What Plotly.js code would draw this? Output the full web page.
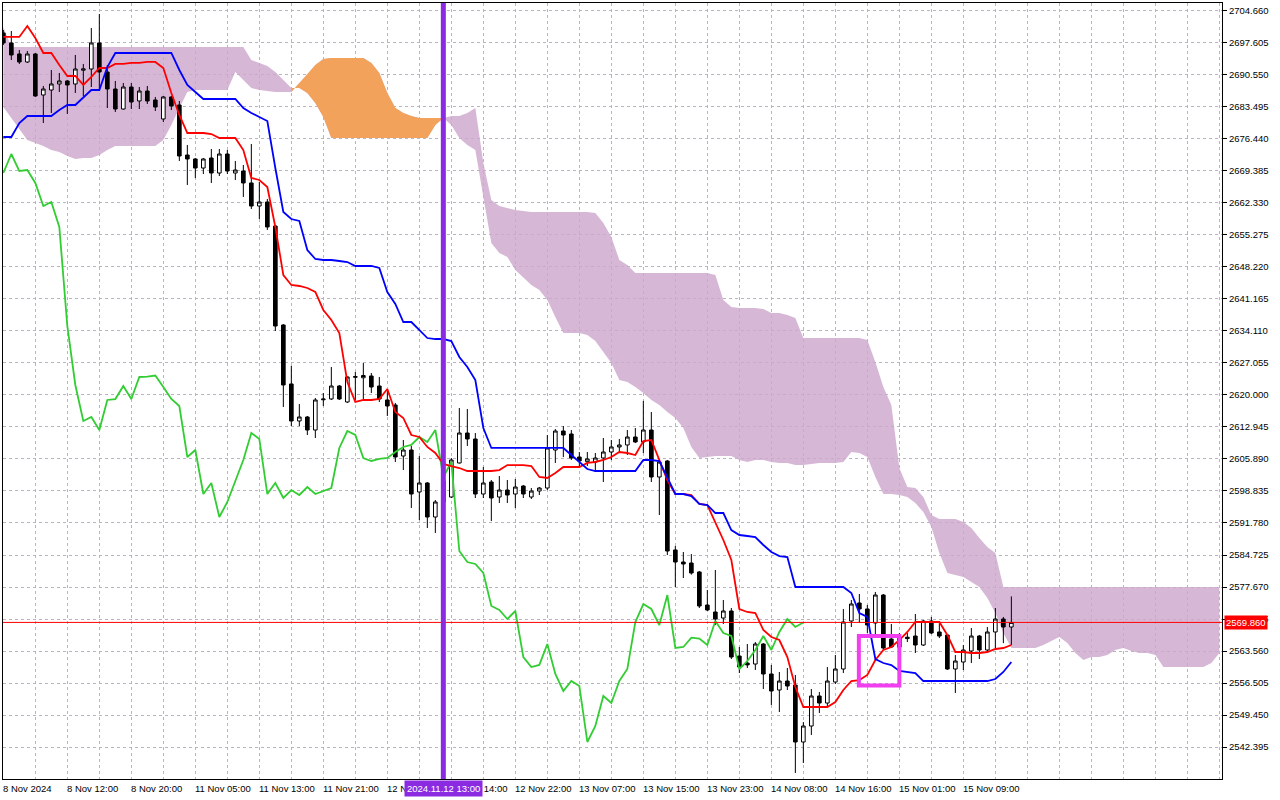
<!DOCTYPE html>
<html><head><meta charset="utf-8">
<script src="https://cdn.plot.ly/plotly-3.0.1.min.js"></script>
<style>html,body{margin:0;padding:0;background:#fff;}#chart{width:1280px;height:800px;}</style>
</head><body><div id="chart"></div>
<script>
// ---------- data (XAUUSD H1, bar index 0 = 8 Nov 2024 04:00) ----------
const tickBars = [0,8,16,24,32,40,48,56,64,72,80,88,96,104,112,120];
const tickLabels = ['8 Nov 2024','8 Nov 12:00','8 Nov 20:00','11 Nov 05:00','11 Nov 13:00','11 Nov 21:00','12 Nov 06:00','12 Nov 14:00','12 Nov 22:00','13 Nov 07:00','13 Nov 15:00','13 Nov 23:00','14 Nov 08:00','14 Nov 16:00','15 Nov 01:00','15 Nov 09:00'];
const priceTicks = [2704.660,2697.605,2690.550,2683.495,2676.440,2669.385,2662.330,2655.275,2648.220,2641.165,2634.110,2627.055,2620.000,2612.945,2605.890,2598.835,2591.780,2584.725,2577.670,2570.615,2563.560,2556.505,2549.450,2542.395];

const open = [
2699.81,2697.61,2695.18,2693.42,2695.18,2686.14,2687.24,2688.57,2689.23,2688.57,
2691.60,2691.87,2697.61,2691.21,2687.46,2683.05,2687.90,2684.82,2687.02,2685.04,
2680.85,2685.70,2683.93,2672.91,2672.03,2670.04,2672.25,2668.94,2673.13,2668.94,
2669.38,2666.74,2661.66,2662.55,2657.26,2635.43,2622.43,2614.27,2615.15,2612.28,
2618.95,2619.12,2621.98,2618.46,2623.90,2623.80,2624.19,2621.98,2618.90,2617.79,
2606.55,2607.87,2598.61,2600.60,2593.10,2596.40,2597.51,2605.01,2611.62,2610.30,
2598.17,2600.82,2597.51,2599.05,2598.17,2599.93,2597.51,2598.83,2599.49,2607.87,
2612.06,2611.40,2606.33,2605.30,2605.23,2606.11,2607.43,2608.54,2608.98,2610.74,
2609.64,2612.28,2601.92,2605.45,2585.83,2583.18,2582.96,2580.98,2573.70,2572.16,
2570.83,2572.38,2562.45,2560.90,2560.69,2565.10,2558.49,2554.96,2556.94,2556.06,
2543.50,2547.02,2553.64,2552.09,2556.72,2559.59,2570.17,2574.14,2572.82,2569.73,
2575.90,2566.20,2564.40,2566.60,2566.86,2564.88,2570.17,2567.75,2567.09,2559.59,
2561.13,2563.56,2566.86,2563.78,2567.75,2570.61,2568.85];
const high = [
2700.47,2700.25,2696.06,2695.84,2695.40,2688.13,2691.65,2690.99,2689.45,2694.96,
2692.98,2700.91,2704.00,2692.75,2689.23,2688.79,2688.79,2687.90,2688.13,2685.70,
2685.92,2685.92,2684.82,2675.12,2672.25,2672.25,2674.23,2674.23,2674.01,2671.59,
2670.71,2675.34,2666.96,2663.21,2657.48,2635.65,2626.40,2618.02,2615.37,2619.34,
2620.44,2626.17,2622.21,2624.10,2625.07,2627.05,2624.85,2623.97,2621.32,2618.24,
2610.08,2608.76,2606.55,2600.82,2596.85,2604.00,2606.11,2617.13,2616.91,2611.62,
2604.12,2601.26,2602.14,2601.26,2601.48,2600.15,2599.49,2599.71,2611.18,2612.50,
2613.16,2612.28,2607.43,2607.43,2607.21,2610.52,2610.08,2610.30,2612.28,2612.72,
2618.68,2616.25,2605.67,2605.67,2586.71,2585.39,2584.94,2581.20,2577.01,2581.42,
2574.80,2573.04,2564.44,2565.10,2565.54,2565.32,2560.47,2558.93,2559.81,2558.27,
2547.90,2555.18,2554.52,2560.03,2562.67,2572.82,2574.80,2576.13,2573.70,2576.57,
2576.13,2569.51,2567.50,2567.53,2571.72,2570.39,2571.06,2569.95,2567.31,2562.67,
2564.88,2568.63,2567.09,2568.85,2573.04,2571.06,2575.60];
const low = [
2697.17,2693.86,2692.98,2693.20,2685.70,2679.97,2682.17,2686.80,2681.95,2686.58,
2685.92,2687.90,2687.24,2683.27,2682.39,2682.90,2683.05,2683.05,2684.16,2682.61,
2680.19,2682.83,2671.59,2666.30,2667.84,2668.72,2666.74,2668.28,2668.72,2667.40,
2663.65,2661.00,2658.80,2656.38,2634.11,2617.35,2613.16,2613.16,2611.18,2610.52,
2617.57,2618.90,2618.90,2618.24,2618.90,2618.90,2620.44,2618.46,2615.37,2605.23,
2603.46,2595.08,2592.44,2590.67,2589.57,2594.80,2597.29,2604.90,2608.76,2597.29,
2597.29,2592.22,2596.19,2596.19,2595.08,2597.29,2597.07,2597.95,2599.05,2605.01,
2606.33,2605.67,2604.12,2604.34,2603.02,2600.82,2605.67,2607.21,2606.77,2609.41,
2607.21,2600.82,2593.54,2584.72,2577.67,2579.65,2580.40,2573.04,2572.38,2569.29,
2569.51,2561.79,2558.71,2559.81,2559.37,2555.18,2551.66,2550.11,2554.96,2536.66,
2538.87,2545.04,2549.89,2551.21,2556.28,2558.71,2568.85,2569.73,2567.53,2567.09,
2563.78,2564.22,2563.00,2565.54,2563.12,2564.66,2567.31,2566.42,2559.37,2554.30,
2559.37,2560.91,2561.79,2563.12,2564.20,2565.30,2564.90];
const close = [
2697.61,2694.96,2693.42,2695.18,2685.92,2687.46,2688.57,2689.23,2688.35,2691.87,
2691.90,2697.61,2691.21,2687.46,2683.05,2687.90,2684.60,2687.02,2684.82,2683.49,
2685.70,2683.71,2672.69,2672.03,2670.04,2672.03,2668.94,2673.13,2669.38,2669.60,
2666.74,2661.66,2662.55,2657.04,2635.21,2622.21,2614.27,2615.15,2612.28,2618.90,
2619.10,2621.98,2619.12,2623.97,2624.05,2624.30,2621.76,2619.12,2617.57,2606.33,
2607.87,2598.17,2600.60,2593.10,2596.41,2601.00,2605.67,2611.62,2610.30,2598.17,
2600.60,2597.29,2599.05,2597.95,2599.71,2598.17,2598.83,2599.49,2608.32,2612.06,
2611.18,2606.11,2605.45,2605.90,2606.11,2607.43,2608.54,2608.98,2610.74,2609.64,
2612.28,2601.92,2605.23,2585.60,2583.18,2582.74,2580.76,2573.48,2572.60,2570.61,
2572.38,2562.23,2560.03,2560.50,2565.10,2558.49,2554.74,2556.94,2555.84,2543.50,
2547.02,2553.64,2552.09,2556.94,2559.59,2569.95,2573.92,2572.82,2569.29,2575.90,
2564.22,2564.44,2566.50,2566.30,2564.88,2570.17,2567.53,2566.86,2559.59,2561.35,
2563.78,2566.86,2563.78,2567.75,2570.61,2568.85,2569.86];

const tenkan = [
2698.93,2698.93,2698.93,2701.35,2698.71,2695.40,2695.40,2692.75,2690.33,2690.33,
2688.35,2690.11,2692.09,2692.09,2692.98,2692.98,2693.20,2693.20,2693.42,2693.42,
2692.09,2686.58,2681.73,2677.76,2677.76,2677.76,2677.54,2676.66,2676.66,2676.66,
2674.01,2667.84,2667.40,2665.86,2657.04,2646.45,2644.25,2644.03,2643.59,2642.71,
2638.74,2636.53,2633.67,2622.87,2618.46,2618.90,2618.90,2619.12,2621.32,2616.25,
2614.93,2611.18,2610.74,2608.54,2607.21,2604.79,2604.34,2603.90,2603.24,2603.24,
2603.24,2603.24,2603.46,2604.56,2604.56,2604.56,2604.34,2601.92,2601.70,2602.80,
2604.12,2604.12,2604.12,2605.01,2605.23,2605.67,2606.33,2607.43,2607.21,2606.77,
2609.86,2610.08,2605.67,2601.26,2598.17,2598.17,2597.95,2595.97,2595.75,2592.00,
2588.03,2583.62,2572.82,2572.16,2571.94,2568.19,2566.64,2565.98,2562.23,2555.62,
2551.21,2551.21,2551.21,2551.21,2552.31,2554.96,2556.94,2557.16,2558.27,2561.57,
2563.78,2564.44,2565.98,2567.75,2569.95,2569.95,2569.95,2569.95,2567.09,2563.34,
2563.34,2563.12,2563.12,2563.34,2564.00,2564.22,2564.88];
const kijun = [
2676.88,2676.88,2679.97,2681.51,2681.51,2681.51,2681.51,2682.83,2683.93,2683.93,
2685.48,2687.24,2687.24,2692.31,2695.40,2695.40,2695.40,2695.40,2695.40,2695.40,
2695.40,2695.40,2691.65,2688.35,2686.80,2685.26,2685.26,2685.26,2685.26,2685.26,
2683.27,2682.17,2681.29,2680.41,2670.04,2660.34,2658.80,2658.36,2651.97,2649.98,
2649.76,2649.76,2649.54,2649.32,2648.44,2648.44,2648.44,2648.00,2642.71,2640.06,
2636.09,2636.09,2634.33,2632.56,2632.34,2632.34,2631.90,2628.38,2626.17,2623.31,
2612.72,2608.32,2608.32,2608.32,2608.32,2608.32,2608.32,2608.32,2608.32,2608.32,
2608.32,2606.77,2605.23,2603.68,2603.24,2603.24,2603.24,2603.24,2603.24,2603.24,
2605.67,2605.67,2605.45,2601.70,2598.17,2598.17,2597.73,2595.97,2595.75,2593.98,
2593.98,2590.23,2589.13,2588.91,2588.69,2586.93,2585.39,2584.50,2584.28,2577.67,
2577.67,2577.67,2577.67,2577.67,2577.67,2577.67,2576.35,2571.94,2571.06,2561.79,
2560.91,2560.47,2559.15,2558.93,2558.71,2556.94,2556.94,2556.94,2556.94,2556.94,
2556.94,2556.94,2556.94,2556.94,2557.38,2558.93,2561.13];
const spanA = [
2683.49,2681.07,2678.42,2676.22,2675.56,2674.89,2674.01,2673.57,2672.69,2672.03,
2672.25,2672.25,2672.91,2674.01,2674.89,2674.89,2674.89,2674.89,2674.89,2674.89,
2676.22,2679.53,2683.27,2686.80,2687.24,2687.24,2687.24,2687.24,2687.24,2691.21,
2689.45,2687.68,2687.24,2687.02,2686.80,2686.80,2686.80,2688.79,2690.55,2692.75,
2694.08,2694.30,2694.30,2694.30,2694.30,2694.30,2693.20,2690.99,2686.58,2683.27,
2682.17,2681.51,2681.07,2681.07,2681.07,2681.07,2679.53,2676.66,2675.12,2674.01,
2663.65,2653.51,2651.31,2650.43,2647.56,2646.01,2644.25,2643.15,2640.94,2637.20,
2633.67,2633.67,2633.67,2633.23,2631.90,2629.47,2627.05,2623.31,2622.87,2621.76,
2620.44,2618.90,2617.79,2616.25,2614.93,2612.72,2608.54,2606.11,2606.33,2606.55,
2606.55,2606.55,2605.67,2605.23,2605.67,2605.67,2605.23,2605.01,2605.01,2604.56,
2604.56,2604.79,2605.01,2605.01,2605.01,2605.23,2607.43,2607.21,2606.33,2601.92,
2598.17,2598.17,2597.95,2597.51,2596.19,2594.20,2590.89,2585.17,2580.76,2580.32,
2579.88,2578.78,2577.67,2575.24,2571.94,2567.53,2564.22,2564.22,2564.22,2564.22,
2564.88,2565.76,2566.64,2565.32,2563.12,2561.57,2562.23,2562.23,2562.67,2563.78,
2564.22,2563.56,2563.12,2563.12,2562.67,2560.03,2560.03,2560.03,2560.03,2560.03,
2560.03,2560.91,2563.12];
const spanB = [
2701.13,
2696.72,2696.72,2696.72,2696.72,2696.72,2696.72,2696.72,2696.72,2696.72,2696.72,
2696.72,2696.72,2696.72,2696.72,2696.72,2696.72,2696.72,2696.72,2696.72,2696.72,
2696.72,2696.72,2696.72,2696.72,2696.72,2696.72,2696.72,2696.72,2696.72,2696.72,
2693.86,2693.20,2692.53,2691.21,2689.45,2687.68,
2687.68,2686.58,2684.38,2681.29,
2676.66,2676.66,2676.66,2676.66,2676.66,2676.66,2676.66,2676.66,2676.66,2676.66,2676.66,2676.66,2676.66,
2679.53,2681.07,
2681.51,2681.51,2682.17,2683.27,
2671.15,2662.99,2661.66,2661.22,2660.78,2660.56,
2660.34,2660.34,2660.34,2660.34,2660.34,2660.34,2660.34,2660.34,
2660.12,2657.92,2654.83,2649.76,2648.66,
2646.89,2646.89,2646.89,2646.89,2646.89,2646.89,2646.89,2646.89,2646.89,2646.89,
2646.45,2640.94,2639.40,2639.18,2639.18,2639.18,2638.96,2638.08,2638.08,2637.64,2636.97,
2632.56,2632.56,2632.56,2632.56,2632.56,2632.56,2632.56,2632.56,
2632.12,2627.28,2621.76,2617.79,2603.90,2599.71,2599.49,2597.51,2593.54,
2592.66,2592.66,2592.66,2592.00,2590.67,2588.47,2586.49,2585.17,
2577.67,2577.67,2577.67,2577.67,2577.67,2577.67,2577.67,2577.67,2577.67,2577.67,
2577.67,2577.67,2577.67,2577.67,2577.67,2577.67,2577.67,2577.67,2577.67,2577.67,
2577.67,2577.67,2577.67,2577.67,2577.67,2577.67,2577.67,2577.67];

const chikouShift = 26;
const bullCloud = [36, 55];          // bars where Span A is above Span B
const currentPrice = 2569.86;
const markerBar = 55;
const markerLabel = '2024.11.12 13:00';
const boxBars = [106.94, 112.0];
const boxPrices = [2555.96, 2566.86];

// ---------- build ----------
const bars = open.map((_, i) => i);
const cloudBars = spanA.map((_, i) => i);
const gridBars = [];
for (let b = 0; b <= 152; b += 4) gridBars.push(b);
const FONT = 'Liberation Sans, Arial, sans-serif';
const X_RANGE = [-0.04, 152.33];
const Y_RANGE = [2535.34, 2706.42];
const NOLINE = {width: 0, color: 'rgba(0,0,0,0)'};

const bullX = cloudBars.slice(bullCloud[0], bullCloud[1] + 1);
const traces = [
  // cloud on the base subplot (below)
  {x: cloudBars, y: spanB, mode: 'lines', line: NOLINE, hoverinfo: 'skip'},
  {x: cloudBars, y: spanA, mode: 'lines', line: NOLINE, fill: 'tonexty', fillcolor: 'rgba(205,168,205,0.82)', hoverinfo: 'skip'},
  {x: bullX, y: spanB.slice(bullCloud[0], bullCloud[1] + 1), mode: 'lines', line: NOLINE, hoverinfo: 'skip'},
  {x: bullX, y: spanA.slice(bullCloud[0], bullCloud[1] + 1), mode: 'lines', line: NOLINE, fill: 'tonexty', fillcolor: 'rgb(243,162,92)', hoverinfo: 'skip'},
  // candles and lines on the overlaid subplot (above the cloud)
  {type: 'candlestick', xaxis: 'x2', yaxis: 'y2', x: bars, open: open, high: high, low: low, close: close,
   increasing: {line: {color: '#000', width: 1}, fillcolor: '#fff'},
   decreasing: {line: {color: '#000', width: 1}, fillcolor: '#000'},
   whiskerwidth: 0, hoverinfo: 'skip'},
  {xaxis: 'x2', yaxis: 'y2', x: bars.slice(0, bars.length - chikouShift), y: close.slice(chikouShift), mode: 'lines', line: {color: '#32cd32', width: 1.8}, hoverinfo: 'skip'},
  {xaxis: 'x2', yaxis: 'y2', x: bars, y: tenkan, mode: 'lines', line: {color: '#ff0000', width: 1.8}, hoverinfo: 'skip'},
  {xaxis: 'x2', yaxis: 'y2', x: bars, y: kijun, mode: 'lines', line: {color: '#0000ff', width: 1.8}, hoverinfo: 'skip'}
];

const annotations = tickBars.map((b, k) => ({
  x: b, xref: 'x', y: 0, yref: 'paper', yanchor: 'top', xanchor: 'left', xshift: -2, yshift: -2,
  text: tickLabels[k], showarrow: false, font: {family: FONT, size: 9.5, color: '#000'}
}));
annotations.push({
  x: markerBar, xref: 'x', y: 0, yref: 'paper', yanchor: 'top', xanchor: 'center', yshift: -1,
  text: markerLabel, showarrow: false, bgcolor: '#8a2be2', borderpad: 2,
  font: {family: FONT, size: 9.5, color: '#fff'}
});
annotations.push({
  x: 1, xref: 'paper', xanchor: 'left', xshift: 2, y: currentPrice, yref: 'y',
  text: currentPrice.toFixed(3), showarrow: false, bgcolor: '#ff0000', borderpad: 1,
  font: {family: FONT, size: 9.5, color: '#fff'}
});

const shapes = [
  {type: 'line', xref: 'paper', x0: 0, x1: 1, yref: 'y', y0: currentPrice, y1: currentPrice, line: {color: '#ff0000', width: 1}, layer: 'above'},
  {type: 'line', xref: 'x', x0: markerBar, x1: markerBar, yref: 'paper', y0: 0, y1: 1, line: {color: '#8a2be2', width: 5}, layer: 'above'},
  {type: 'rect', xref: 'x', x0: boxBars[0], x1: boxBars[1], yref: 'y', y0: boxPrices[0], y1: boxPrices[1], line: {color: '#f03ef0', width: 4}, fillcolor: 'rgba(0,0,0,0)', layer: 'above'}
];

const gridStyle = {showgrid: true, gridcolor: '#b9b3c2', griddash: '3px,3px', gridwidth: 1};
const layout = {
  width: 1280, height: 800, margin: {l: 3, r: 58, t: 3, b: 21},
  paper_bgcolor: '#fff', plot_bgcolor: '#fff', showlegend: false, boxgap: 0.35,
  xaxis: Object.assign({range: X_RANGE, tickmode: 'array', tickvals: gridBars, showticklabels: false, ticks: '',
    showline: true, mirror: true, linecolor: '#000', linewidth: 1, zeroline: false, rangeslider: {visible: false}, fixedrange: true}, gridStyle),
  yaxis: Object.assign({side: 'right', range: Y_RANGE, tickmode: 'array', tickvals: priceTicks,
    ticktext: priceTicks.map(v => v.toFixed(3)), ticks: 'outside', ticklen: 4, tickcolor: '#000',
    tickfont: {family: FONT, size: 9.5, color: '#000'}, showline: true, mirror: true, linecolor: '#000', linewidth: 1,
    zeroline: false, fixedrange: true}, gridStyle),
  xaxis2: {overlaying: 'x', range: X_RANGE, visible: false, showgrid: false, zeroline: false, rangeslider: {visible: false}, fixedrange: true},
  yaxis2: {overlaying: 'y', side: 'right', range: Y_RANGE, visible: false, showgrid: false, zeroline: false, fixedrange: true},
  annotations: annotations, shapes: shapes
};
Plotly.newPlot('chart', traces, layout, {staticPlot: true, displayModeBar: false});
</script></body></html>
